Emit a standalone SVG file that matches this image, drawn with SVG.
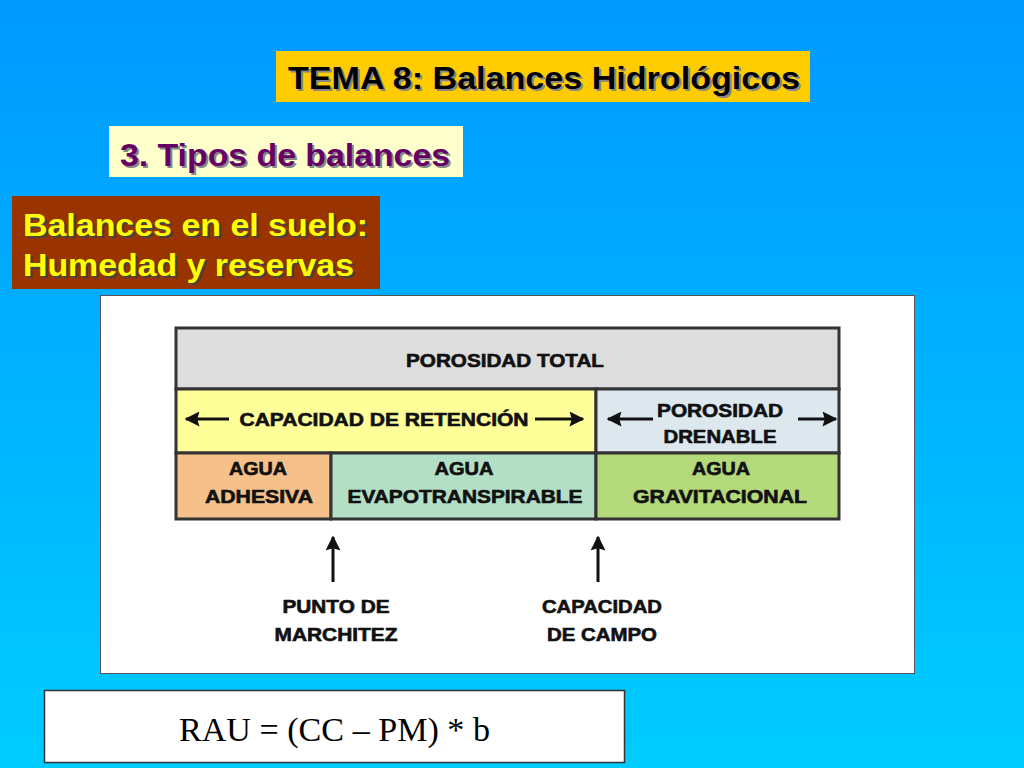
<svg xmlns="http://www.w3.org/2000/svg" width="1024" height="768" viewBox="0 0 1024 768">
<defs>
<linearGradient id="bg" x1="0" y1="0" x2="0" y2="1">
<stop offset="0" stop-color="#0099ff"/>
<stop offset="1" stop-color="#00ccff"/>
</linearGradient>
<marker id="ah" viewBox="0 0 10 10" refX="9" refY="5" markerWidth="17" markerHeight="15" markerUnits="userSpaceOnUse" orient="auto">
<path d="M0,0 L10,5 L0,10 L1.5,5 Z" fill="#111"/>
</marker>
<marker id="ahBig" viewBox="0 0 10 10" refX="9" refY="5" markerWidth="17" markerHeight="15" markerUnits="userSpaceOnUse" orient="auto">
<path d="M0,0 L10,5 L0,10 L1.5,5 Z" fill="#111"/>
</marker>
</defs>
<style>
.hd{font-family:"Liberation Sans",Arial,sans-serif;font-weight:bold}
.tb{font-family:"Liberation Sans",Arial,sans-serif;font-weight:bold;font-size:18px;fill:#111;text-anchor:middle;stroke:#111;stroke-width:0.6}
.cell{stroke:#333;stroke-width:3}
.arr{stroke:#111;stroke-width:3;fill:none}
</style>
<rect width="1024" height="768" fill="url(#bg)"/>

<g id="title">
<rect x="276" y="51" width="534" height="51" fill="#ffcc00"/>
<text class="hd" x="290" y="91" font-size="32" textLength="512" lengthAdjust="spacingAndGlyphs" fill="#888">TEMA 8: Balances Hidrológicos</text>
<text class="hd" x="288" y="89" font-size="32" textLength="512" lengthAdjust="spacingAndGlyphs" fill="#000">TEMA 8: Balances Hidrológicos</text>
</g>

<g id="subtitle">
<rect x="109" y="126" width="354" height="51" fill="#ffffcc"/>
<text class="hd" x="122" y="168" font-size="32" textLength="330" lengthAdjust="spacingAndGlyphs" fill="#888">3. Tipos de balances</text>
<text class="hd" x="120" y="166" font-size="32" textLength="330" lengthAdjust="spacingAndGlyphs" fill="#660066">3. Tipos de balances</text>
</g>

<g id="section">
<rect x="12" y="196" width="368" height="93" fill="#993300"/>
<text class="hd" x="25" y="238" font-size="32" textLength="345" lengthAdjust="spacingAndGlyphs" fill="#444">Balances en el suelo:</text>
<text class="hd" x="23" y="236" font-size="32" textLength="345" lengthAdjust="spacingAndGlyphs" fill="#ffff00">Balances en el suelo:</text>
<text class="hd" x="25" y="278" font-size="32" textLength="331" lengthAdjust="spacingAndGlyphs" fill="#444">Humedad y reservas</text>
<text class="hd" x="23" y="276" font-size="32" textLength="331" lengthAdjust="spacingAndGlyphs" fill="#ffff00">Humedad y reservas</text>
</g>

<g id="panel">
<rect x="100.5" y="295.5" width="814" height="378" fill="#ffffff" stroke="#555" stroke-width="1"/>
</g>

<g id="porosidad-total">
<rect class="cell" x="176" y="328" width="663" height="61" fill="#dddddd"/>
<text class="tb" x="505" y="367" textLength="198" lengthAdjust="spacingAndGlyphs">POROSIDAD TOTAL</text>
</g>

<g id="capacidad-retencion">
<rect class="cell" x="176" y="389" width="420" height="64" fill="#ffff99"/>
<text class="tb" x="384" y="426" textLength="289" lengthAdjust="spacingAndGlyphs">CAPACIDAD DE RETENCIÓN</text>
</g>

<g id="porosidad-drenable">
<rect class="cell" x="596" y="389" width="243" height="64" fill="#dde8ee"/>
<text class="tb" x="720" y="417" textLength="126" lengthAdjust="spacingAndGlyphs">POROSIDAD</text>
<text class="tb" x="720" y="443" textLength="113" lengthAdjust="spacingAndGlyphs">DRENABLE</text>
</g>

<g id="agua-adhesiva">
<rect class="cell" x="176" y="453" width="155" height="66" fill="#f5c08a"/>
<text class="tb" x="258" y="475" textLength="58" lengthAdjust="spacingAndGlyphs">AGUA</text>
<text class="tb" x="259" y="503" textLength="108" lengthAdjust="spacingAndGlyphs">ADHESIVA</text>
</g>

<g id="agua-evapotranspirable">
<rect class="cell" x="331" y="453" width="265" height="66" fill="#b3dfc6"/>
<text class="tb" x="464" y="475" textLength="59" lengthAdjust="spacingAndGlyphs">AGUA</text>
<text class="tb" x="465" y="503" textLength="235" lengthAdjust="spacingAndGlyphs">EVAPOTRANSPIRABLE</text>
</g>

<g id="agua-gravitacional">
<rect class="cell" x="596" y="453" width="243" height="66" fill="#b3d97a"/>
<text class="tb" x="721" y="475" textLength="58" lengthAdjust="spacingAndGlyphs">AGUA</text>
<text class="tb" x="720" y="503" textLength="174" lengthAdjust="spacingAndGlyphs">GRAVITACIONAL</text>
</g>

<g id="punto-marchitez">
<text class="tb" x="336" y="613" textLength="107" lengthAdjust="spacingAndGlyphs">PUNTO DE</text>
<text class="tb" x="336" y="641" textLength="123" lengthAdjust="spacingAndGlyphs">MARCHITEZ</text>
</g>

<g id="capacidad-campo">
<text class="tb" x="602" y="613" textLength="120" lengthAdjust="spacingAndGlyphs">CAPACIDAD</text>
<text class="tb" x="602" y="641" textLength="110" lengthAdjust="spacingAndGlyphs">DE CAMPO</text>
</g>

<g id="connectors">
<line class="arr" x1="229" y1="419" x2="186" y2="419" marker-end="url(#ah)"/>
<line class="arr" x1="535" y1="419" x2="583" y2="419" marker-end="url(#ah)"/>
<line class="arr" x1="653" y1="419" x2="608" y2="419" marker-end="url(#ah)"/>
<line class="arr" x1="798" y1="419" x2="836" y2="419" marker-end="url(#ah)"/>
<line class="arr" x1="333" y1="582" x2="333" y2="537" marker-end="url(#ahBig)"/>
<line class="arr" x1="598" y1="582" x2="598" y2="537" marker-end="url(#ahBig)"/>
</g>

<g id="formula">
<rect x="44.5" y="690.5" width="580" height="72" fill="#ffffff" stroke="#333" stroke-width="1.5"/>
<text x="179" y="741" font-family="'Liberation Serif','Times New Roman',serif" font-size="34" textLength="311" lengthAdjust="spacingAndGlyphs" fill="#000">RAU = (CC – PM) * b</text>
</g>
</svg>
